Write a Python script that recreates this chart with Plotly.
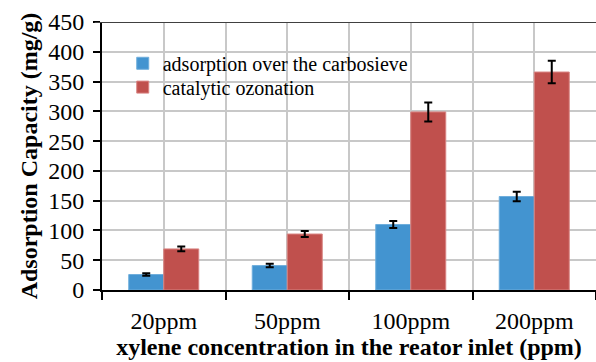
import plotly.graph_objects as go

categories = ["20ppm", "50ppm", "100ppm", "200ppm"]
adsorption = [26, 41, 110, 157]
adsorption_err = [2, 3, 6, 8]
ozonation = [69, 94, 299, 366]
ozonation_err = [4, 5, 16, 19]
series_names = ["adsorption over the carbosieve", "catalytic ozonation"]
y_ticks = [0, 50, 100, 150, 200, 250, 300, 350, 400, 450]

xpos = list(range(len(categories)))
boundaries = [i - 0.5 for i in range(len(categories) + 1)]

FONT = "Liberation Serif, Times New Roman, serif"

fig = go.Figure()
fig.add_trace(go.Bar(
    x=xpos, y=adsorption, name=series_names[0], legend="legend",
    marker=dict(color="#4394D0", line=dict(color="#6FAEDC", width=1)),
    error_y=dict(type="data", array=adsorption_err, color="black", thickness=2, width=4),
))
fig.add_trace(go.Bar(
    x=xpos, y=ozonation, name=series_names[1], legend="legend2",
    marker=dict(color="#C0504D", line=dict(color="#D98583", width=1)),
    error_y=dict(type="data", array=ozonation_err, color="black", thickness=2, width=4),
))

leg_common = dict(xanchor="left", yanchor="middle", bgcolor="rgba(0,0,0,0)",
                  font=dict(size=20, family=FONT), itemwidth=30, borderwidth=0)

fig.update_layout(
    width=596, height=362,
    margin=dict(l=102, r=0, t=22, b=72),
    paper_bgcolor="white", plot_bgcolor="white",
    barmode="group", bargap=0.433, bargroupgap=0,
    font=dict(family=FONT, color="black", size=24),
    legend=dict(x=0.042, y=0.846, **leg_common),
    legend2=dict(x=0.042, y=0.757, **leg_common),
    showlegend=True,
)

fig.update_xaxes(
    range=[-0.5, len(categories) - 0.5],
    tickmode="array", tickvals=xpos, ticktext=categories,
    ticks="", showgrid=True, gridcolor="#C8C8C8", gridwidth=2,
    showline=True, linecolor="black", linewidth=2,
    minor=dict(tickmode="array", tickvals=boundaries,
               ticks="outside", ticklen=8, tickwidth=2, tickcolor="black",
               showgrid=True, gridcolor="#C8C8C8", gridwidth=2),
    tickfont=dict(size=24, family=FONT),
    ticklabelstandoff=8,
    title=dict(text="<b>xylene concentration in the reator inlet (ppm)</b>",
               font=dict(size=24, family=FONT), standoff=2),
    zeroline=False,
)
fig.update_yaxes(
    range=[0, 450], tickmode="array", tickvals=y_ticks,
    ticks="outside", ticklen=7, tickwidth=2, tickcolor="black",
    showgrid=True, gridcolor="#C8C8C8", gridwidth=2,
    showline=True, linecolor="black", linewidth=2,
    tickfont=dict(size=24, family=FONT),
    ticklabelstandoff=4,
    title=dict(text="<b>Adsorption Capacity (mg/g)</b>",
               font=dict(size=24, family=FONT), standoff=4),
    zeroline=False,
)

# top border line at the axis maximum
fig.add_shape(type="line", xref="paper", yref="y", x0=-0.015, x1=1,
              y0=y_ticks[-1], y1=y_ticks[-1], line=dict(color="#404040", width=2))

fig.write_html("out.html")
